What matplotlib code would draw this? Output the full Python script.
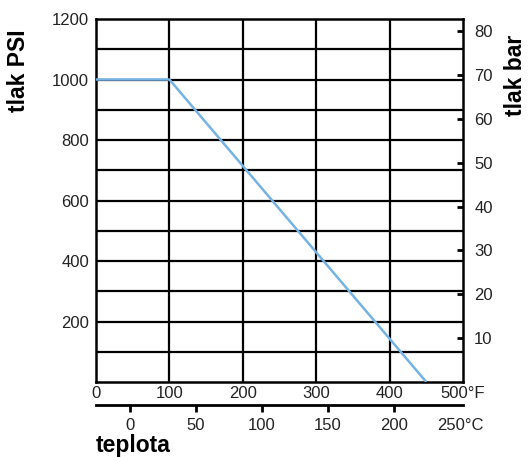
import matplotlib.pyplot as plt
import numpy as np

plt.rcParams['font.family'] = ['Liberation Sans', 'DejaVu Sans']

# curve: pressure rating vs temperature
temp_f = [0, 100, 450]
pressure_psi = [1000, 1000, 0]

psi_ticks = [200, 400, 600, 800, 1000, 1200]
f_ticks = [0, 100, 200, 300, 400, 500]
f_labels = ['0', '100', '200', '300', '400', '500°F']
bar_ticks = [10, 20, 30, 40, 50, 60, 70, 80]
c_ticks = [0, 50, 100, 150, 200, 250]
c_labels = ['0', '50', '100', '150', '200', '250°C']

BAR_PER_PSI = 1 / 14.5038
C_OFFSET_F = 46  # the printed °C scale sits a bit right of the true one

def psi2bar(p):
    return np.asarray(p) * BAR_PER_PSI

def bar2psi(b):
    return np.asarray(b) / BAR_PER_PSI

def f2c(f):
    return (np.asarray(f) - C_OFFSET_F) / 1.8

def c2f(c):
    return np.asarray(c) * 1.8 + C_OFFSET_F

fig = plt.figure(figsize=(5.31, 4.57), dpi=100)
ax = fig.add_axes([0.1808, 0.1641, 0.6912, 0.7943])

ax.set_xlim(0, 500)
ax.set_ylim(0, 1200)

# grid
for y in range(100, 1200, 100):
    ax.axhline(y, color='black', lw=1.6, zorder=1)
for x in range(100, 500, 100):
    ax.axvline(x, color='black', lw=1.6, zorder=1)

ax.plot(temp_f, pressure_psi, color='#74b3e3', lw=1.8, zorder=3, solid_capstyle='butt')

for s in ax.spines.values():
    s.set_linewidth(1.8)

ax.set_yticks(psi_ticks)
ax.set_xticks(f_ticks)
ax.set_xticklabels(f_labels)
ax.tick_params(axis='both', length=0, labelsize=12, colors='#222222')
ax.tick_params(axis='y', pad=5)
ax.tick_params(axis='x', pad=3)

# right axis in bar
secy = ax.secondary_yaxis('right', functions=(psi2bar, bar2psi))
secy.set_yticks(bar_ticks)
secy.tick_params(direction='in', length=4, width=2, pad=8, labelsize=12, labelcolor='#222222')
secy.spines['right'].set_visible(False)

# bottom axis in celsius
secx = ax.secondary_xaxis(-0.0634, functions=(f2c, c2f))
secx.set_xticks(c_ticks)
secx.set_xticklabels(c_labels)
secx.tick_params(direction='out', length=5, width=2, pad=4, labelsize=12, labelcolor='#222222')
secx.spines['bottom'].set_linewidth(2)
secx.xaxis.get_major_ticks()[-1].tick1line.set_visible(False)

fig.text(0.034, 0.845, 'tlak PSI', rotation=90, ha='center', va='center',
         fontsize=16.5, fontweight='bold')
fig.text(0.97, 0.835, 'tlak bar', rotation=90, ha='center', va='center',
         fontsize=16.5, fontweight='bold')
fig.text(0.18, 0.025, 'teplota', ha='left', va='center',
         fontsize=16.5, fontweight='bold')

fig.savefig('out.png', dpi=100)
